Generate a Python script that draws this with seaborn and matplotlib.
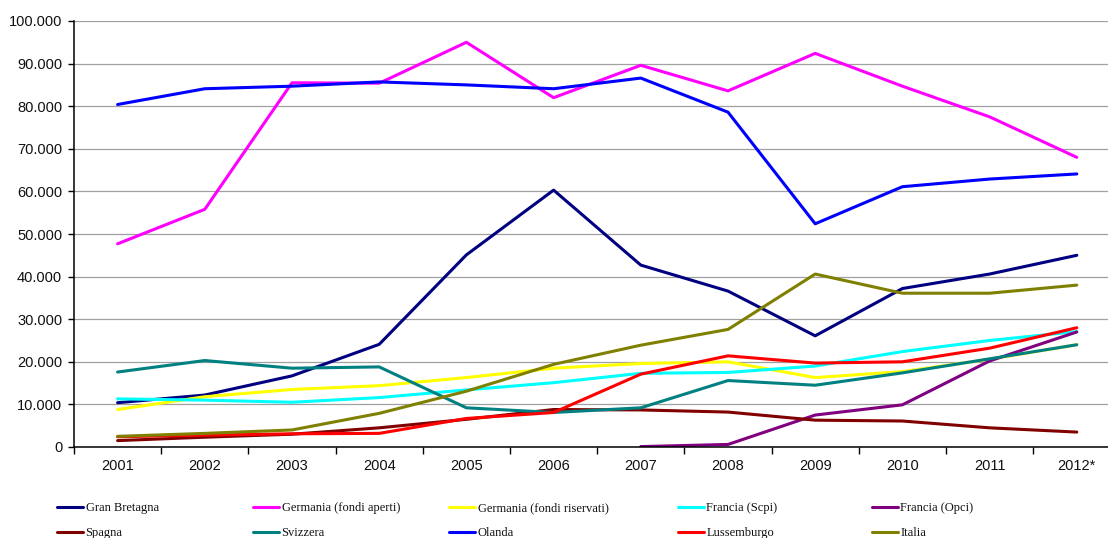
import numpy as np
import pandas as pd
import seaborn as sns
import matplotlib
matplotlib.use("Agg")
import matplotlib.pyplot as plt
from matplotlib.lines import Line2D
from matplotlib.ticker import FuncFormatter, FixedLocator

# Patrimonio dei fondi immobiliari per paese (valori in migliaia)
years = ["2001", "2002", "2003", "2004", "2005", "2006",
         "2007", "2008", "2009", "2010", "2011", "2012*"]

gran_bretagna = [10400, 12200, 16700, 24100, 45100, 60300, 42700, 36600, 26100, 37200, 40600, 45000]
germania_aperti = [47700, 55800, 85500, 85400, 95000, 82000, 89600, 83600, 92400, 84700, 77500, 68000]
germania_riservati = [8800, 11800, 13500, 14400, 16300, 18500, 19600, 20000, 16300, 17700, 20600, 24000]
francia_scpi = [11300, 11000, 10500, 11600, 13400, 15100, 17300, 17500, 19000, 22400, 25000, 27100]
francia_opci = [np.nan] * 6 + [100, 600, 7500, 9900, 20200, 27000]
spagna = [1500, 2300, 3000, 4500, 6500, 8800, 8700, 8200, 6300, 6100, 4500, 3500]
svizzera = [17600, 20300, 18500, 18800, 9200, 8100, 9200, 15600, 14500, 17400, 20700, 24000]
olanda = [80400, 84100, 84700, 85700, 85000, 84100, 86600, 78600, 52400, 61100, 62900, 64100]
lussemburgo = [2400, 2800, 3100, 3200, 6700, 8100, 17100, 21400, 19700, 20000, 23200, 28000]
italia = [2500, 3200, 4000, 7900, 13100, 19400, 23900, 27600, 40600, 36100, 36100, 38000]

series_names = ["Gran Bretagna", "Germania (fondi aperti)", "Germania (fondi riservati)",
                "Francia (Scpi)", "Francia (Opci)", "Spagna", "Svizzera", "Olanda",
                "Lussemburgo", "Italia"]
series_values = [gran_bretagna, germania_aperti, germania_riservati, francia_scpi,
                 francia_opci, spagna, svizzera, olanda, lussemburgo, italia]
colors = ["#000080", "#FF00FF", "#FFFF00", "#00FFFF", "#800080",
          "#800000", "#008080", "#0000FF", "#FF0000", "#808000"]

y_ticks = list(range(0, 100001, 10000))

rows = []
for name, vals in zip(series_names, series_values):
    for i, v in enumerate(vals):
        rows.append({"pos": i, "anno": years[i], "paese": name, "valore": v})
df = pd.DataFrame(rows).dropna()

sns.set_style("white")
plt.rcParams["font.family"] = ["Liberation Sans", "DejaVu Sans"]

fig = plt.figure(figsize=(11.08, 5.38), dpi=100)
W, H = 1108, 538
ax = fig.add_axes([74 / W, 91 / H, 1046.4 / W, 426 / H])

sns.lineplot(data=df, x="pos", y="valore", hue="paese", hue_order=series_names,
             palette=dict(zip(series_names, colors)), sort=False, estimator=None,
             linewidth=2.2, legend=False, ax=ax)

ax.set_xlim(-0.5, len(years) - 0.5)
ax.set_ylim(0, 100000)
ax.set_xlabel("")
ax.set_ylabel("")

# category boundaries carry the tick marks, centres carry the labels
ax.xaxis.set_major_locator(FixedLocator(np.arange(-0.5, len(years), 1.0)))
ax.xaxis.set_major_formatter(FuncFormatter(lambda v, p: ""))
ax.set_xticks(np.arange(len(years)), labels=years, minor=True)
ax.tick_params(axis="x", which="major", direction="out", length=5, width=1, color="#000000", bottom=True)
ax.tick_params(axis="x", which="minor", length=0, pad=8.5, labelsize=10.5, labelcolor="#111111")

ax.set_yticks(y_ticks)
ax.yaxis.set_major_formatter(FuncFormatter(lambda v, p: f"{v:,.0f}".replace(",", ".")))
ax.tick_params(axis="y", direction="out", length=4, width=1, color="#000000", left=True,
               pad=4.5, labelsize=10.5, labelcolor="#111111")

ax.grid(axis="y", color="#a0a0a0", linewidth=0.9)
ax.grid(axis="x", visible=False)
ax.set_axisbelow(True)
for side in ["top", "right"]:
    ax.spines[side].set_visible(False)
for side in ["left", "bottom"]:
    ax.spines[side].set_color("#000000")
    ax.spines[side].set_linewidth(1.1)

# legend laid out in two rows of five entries
col_x = [57, 253, 449, 678, 872]
row_y = [506.5, 531.5]
for k, (name, col) in enumerate(zip(series_names, colors)):
    r, c = divmod(k, 5)
    x0 = col_x[c]
    y0 = 1 - row_y[r] / H
    fig.add_artist(Line2D([x0 / W, (x0 + 26) / W], [y0, y0], color=col,
                          linewidth=2.2, transform=fig.transFigure))
    fig.text((x0 + 28.5) / W, y0, name, ha="left", va="center_baseline",
             family=["Liberation Serif", "DejaVu Serif"], fontsize=9, color="#111111")

fig.savefig("out.png", dpi=100)
